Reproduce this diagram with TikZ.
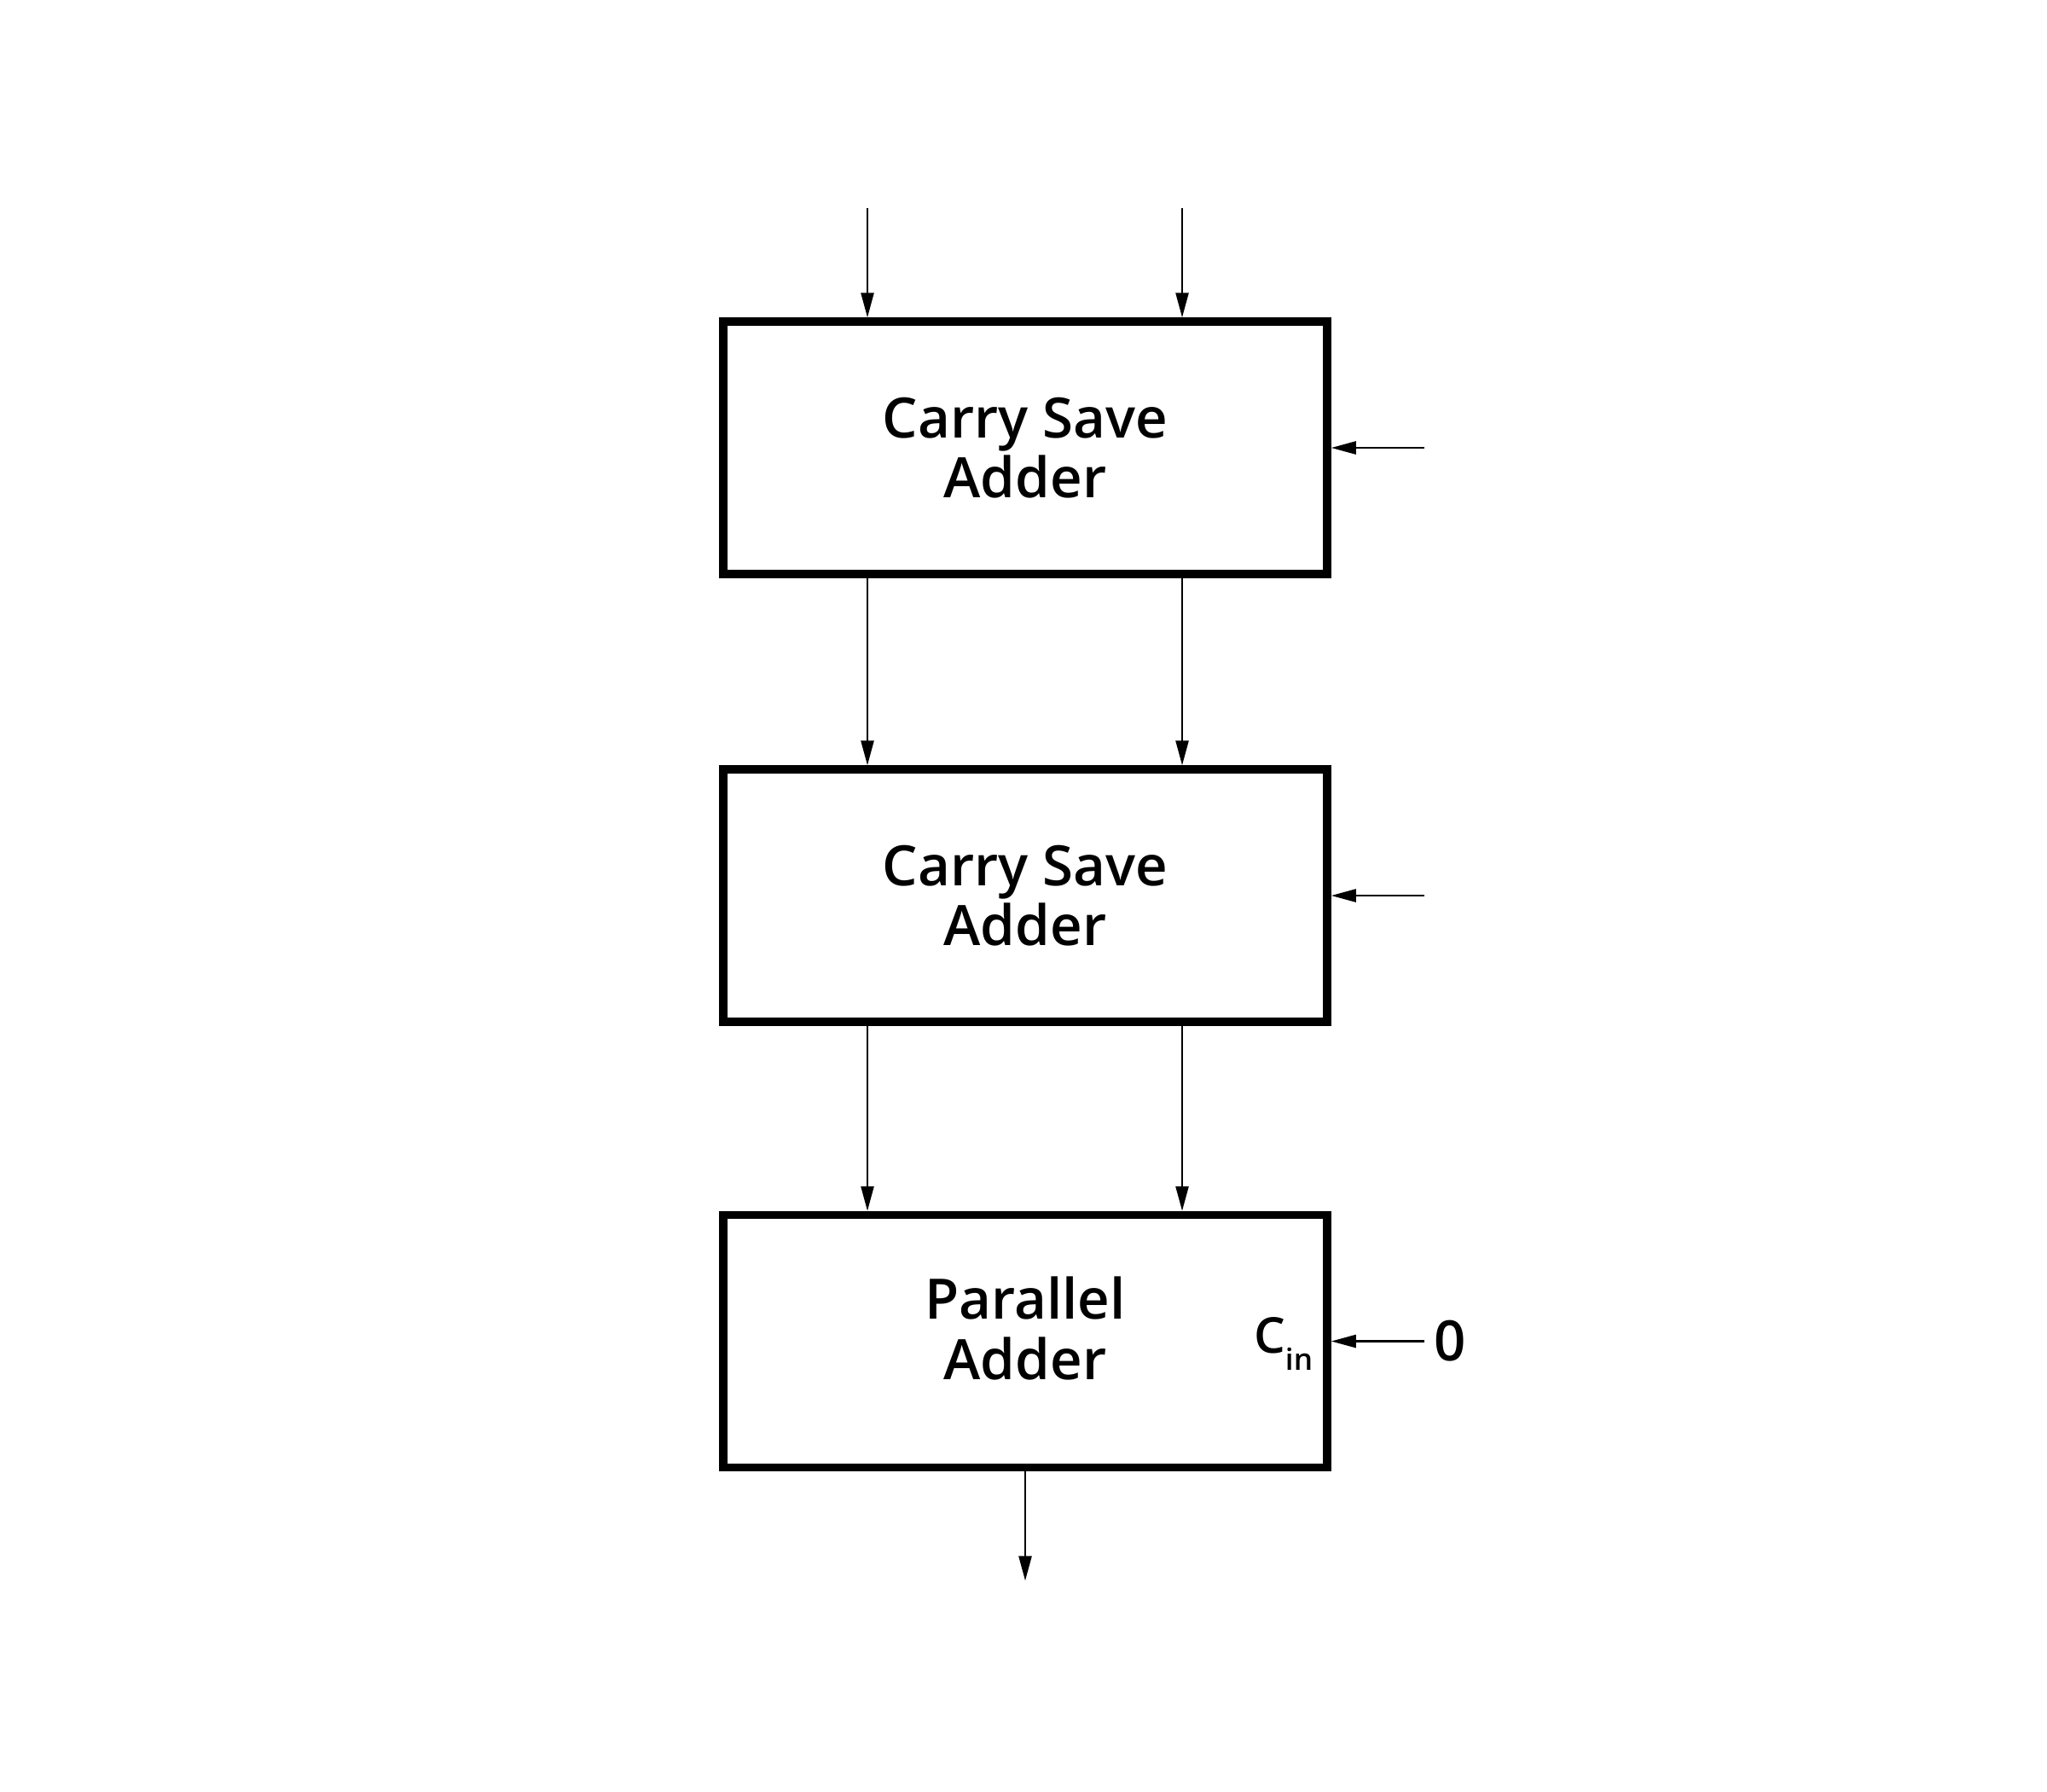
\documentclass[tikz,border=0pt]{standalone}
\usepackage{fontspec}
\setmainfont{Open Sans}[BoldFont={Open Sans Semibold}]
\usetikzlibrary{positioning,arrows.meta}
\tikzset{
    adder/.style={draw, line width=0.095cm, minimum width=7.08cm,
        minimum height=2.96cm, align=center, inner sep=0pt,
        font=\fontsize{18.6}{20}\selectfont\bfseries},
    sig/.style={line width=0.025cm, -{Triangle[length=0.29cm,width=0.15cm]}},
    lbl/.style={inner sep=0pt, font=\fontsize{18.6}{20}\selectfont\bfseries}
}

\begin{document}
\begin{tikzpicture}
\useasboundingbox (0,0) rectangle (24,-21);

\node[adder] (csa1) at (12.02,-5.25) {Carry Save\\Adder};
\node[adder, below=2.195 of csa1] (csa2) {Carry Save\\Adder};
\node[adder, below=2.17 of csa2] (pa) {};
\node[lbl, align=center] (patext) at ([yshift=0.15cm]pa.center) {Parallel\\Adder};

\coordinate[above left=1.28 and 1.85 of csa1.north] (opa);
\coordinate[above right=1.28 and 1.84 of csa1.north] (opb);
\coordinate[right=1.09 of csa1.east] (opc);
\coordinate[right=1.09 of csa2.east] (opd);
\coordinate[below=1.28 of pa.south] (sum);

\node[lbl, right=1.09 of pa.east, inner xsep=0.11cm] (zero) {0};
\node[lbl, left=0.21 of pa.east, yshift=-0.03cm, font=\fontsize{16.5}{17}\selectfont\bfseries] (cin)
    {C\raisebox{-0.2cm}{\fontsize{10}{10}\selectfont\bfseries in}};

\draw[sig] (opa) -- (opa |- csa1.north);
\draw[sig] (opb) -- (opb |- csa1.north);
\draw[sig] (opa |- csa1.south) -- (opa |- csa2.north);
\draw[sig] (opb |- csa1.south) -- (opb |- csa2.north);
\draw[sig] (opa |- csa2.south) -- (opa |- pa.north);
\draw[sig] (opb |- csa2.south) -- (opb |- pa.north);
\draw[sig] (opc) -- (csa1.east);
\draw[sig] (opd) -- (csa2.east);
\draw[sig] (zero.west) -- (pa.east);
\draw[sig] (pa.south) -- (sum);
\end{tikzpicture}
\end{document}
